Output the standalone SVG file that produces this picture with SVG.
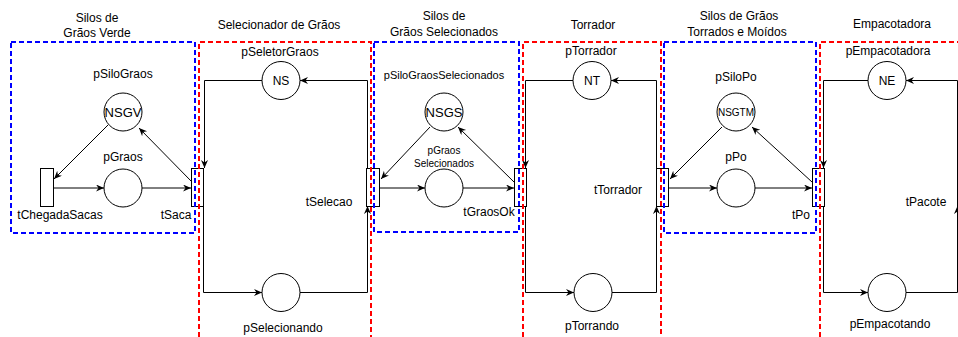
<svg xmlns="http://www.w3.org/2000/svg" width="958" height="337" viewBox="0 0 958 337">
<style>
text{font-family:"Liberation Sans",Arial,sans-serif;font-size:12px;fill:#000;text-anchor:middle}
.sm{font-size:11px}
.xs{font-size:10px}
.pl{fill:#fff;stroke:#000;stroke-width:1}
.tr{fill:#fff;stroke:#000;stroke-width:1}
.cn{fill:none;stroke:#000;stroke-width:1;marker-end:url(#ah)}
.blue{fill:none;stroke:#0000ff;stroke-width:2;stroke-dasharray:5 3}
.red{fill:none;stroke:#ff0000;stroke-width:2;stroke-dasharray:5 3}
</style>
<defs>
<marker id="ah" markerUnits="userSpaceOnUse" markerWidth="10" markerHeight="8" refX="8" refY="3.5" orient="auto">
<path d="M0,0 L8,3.5 L0,7 L2.5,3.5 Z" fill="#000"/>
</marker>
</defs>
<rect width="958" height="337" fill="#fff"/>

<g id="connectors">
<path class="cn" d="M108,125 L54,179"/>
<path class="cn" d="M53.5,188 L104,188"/>
<path class="cn" d="M142,188 L191,188"/>
<path class="cn" d="M192,182 L139,128"/>
<path class="cn" d="M262,80.5 L204.5,80.5 L204.5,168"/>
<path class="cn" d="M203.5,206 L203.5,292.5 L262,292.5"/>
<path class="cn" d="M300,292.5 L367.5,292.5 L367.5,206"/>
<path class="cn" d="M367.5,168 L367.5,80.5 L300,80.5"/>
<path class="cn" d="M430,127 L381,179"/>
<path class="cn" d="M380,188 L425,188"/>
<path class="cn" d="M463,188 L514,188"/>
<path class="cn" d="M514,182 L458,127"/>
<path class="cn" d="M573,80.5 L525.5,80.5 L525.5,168"/>
<path class="cn" d="M525.5,206 L525.5,292.5 L574,292.5"/>
<path class="cn" d="M612,292.5 L656.5,292.5 L656.5,206"/>
<path class="cn" d="M656.5,168 L656.5,80.5 L611,80.5"/>
<path class="cn" d="M722,127 L670,179"/>
<path class="cn" d="M669,188 L717,188"/>
<path class="cn" d="M755,188 L812,188"/>
<path class="cn" d="M812,182 L752,127"/>
<path class="cn" d="M868,80.5 L823.5,80.5 L823.5,168"/>
<path class="cn" d="M823.5,206 L823.5,292.5 L868,292.5"/>
<path class="cn" d="M906,292.5 L957.5,292.5 L957.5,206"/>
<path class="cn" d="M957.5,168 L957.5,80.5 L906,80.5"/>
</g>

<g id="pSiloGraos"><circle class="pl" cx="123" cy="112" r="19"/><text x="123" y="116.5" style="font-size:13px">NSGV</text><text x="123" y="78">pSiloGraos</text></g>
<g id="pGraos"><circle class="pl" cx="123" cy="188" r="19"/><text x="123" y="161">pGraos</text></g>
<g id="tChegadaSacas"><rect class="tr" x="40.5" y="168.5" width="13" height="38"/><text x="60" y="219">tChegadaSacas</text></g>
<g id="tSaca"><rect class="tr" x="191.5" y="168.5" width="12" height="38"/><text x="176" y="219">tSaca</text></g>

<g id="pSeletorGraos"><circle class="pl" cx="281" cy="80.5" r="19"/><text x="281" y="85">NS</text><text x="280" y="56">pSeletorGraos</text></g>
<g id="pSelecionando"><circle class="pl" cx="281" cy="292.5" r="19"/><text x="283" y="332">pSelecionando</text></g>
<g id="tSelecao"><rect class="tr" x="366.5" y="168.5" width="13" height="38"/><text x="329" y="206">tSelecao</text></g>

<g id="pSiloGraosSelecionados"><circle class="pl" cx="444" cy="112" r="19"/><text x="444" y="116.5" style="font-size:13px">NSGS</text><text class="sm" x="444" y="79">pSiloGraosSelecionados</text></g>
<g id="pGraosSelecionados"><circle class="pl" cx="444" cy="188" r="19"/><text class="xs" x="444" y="153.5">pGraos</text><text class="xs" x="444" y="166.5">Selecionados</text></g>
<g id="tGraosOk"><rect class="tr" x="514.5" y="168.5" width="12" height="38"/><text x="489" y="216">tGraosOk</text></g>

<g id="pTorrador"><circle class="pl" cx="592" cy="80.5" r="19"/><text x="592" y="85">NT</text><text x="591" y="55">pTorrador</text></g>
<g id="pTorrando"><circle class="pl" cx="593" cy="292.5" r="19"/><text x="592" y="330">pTorrando</text></g>
<g id="tTorrador"><rect class="tr" x="656.5" y="168.5" width="12" height="38"/><text x="618" y="194">tTorrador</text></g>

<g id="pSiloPo"><circle class="pl" cx="736" cy="112" r="19"/><text class="xs" x="736" y="115.5">NSGTM</text><text x="736" y="81">pSiloPo</text></g>
<g id="pPo"><circle class="pl" cx="736" cy="188" r="19"/><text x="736" y="161">pPo</text></g>
<g id="tPo"><rect class="tr" x="812.5" y="168.5" width="12" height="38"/><text x="801" y="219">tPo</text></g>

<g id="pEmpacotadora"><circle class="pl" cx="887" cy="80.5" r="19"/><text x="887" y="85">NE</text><text x="888" y="55">pEmpacotadora</text></g>
<g id="pEmpacotando"><circle class="pl" cx="887" cy="292.5" r="19"/><text x="890" y="328">pEmpacotando</text></g>
<g id="tPacote"><rect class="tr" x="957.5" y="168.5" width="13" height="38"/><text x="926" y="206">tPacote</text></g>

<g id="region-silos-verde"><rect class="blue" x="11" y="42" width="184" height="191"/><text x="97" y="22">Silos de</text><text x="97" y="37">Grãos Verde</text></g>
<g id="region-selecionador"><path class="red" d="M199,337 L199,42 L371,42 L371,337"/><text x="279" y="29">Selecionador de Grãos</text></g>
<g id="region-silos-selecionados"><rect class="blue" x="374" y="42" width="145" height="190"/><text x="444" y="20">Silos de</text><text x="444" y="36">Grãos Selecionados</text></g>
<g id="region-torrador"><path class="red" d="M523,337 L523,42 L661,42 L661,337"/><text x="593" y="29">Torrador</text></g>
<g id="region-silos-po"><rect class="blue" x="664" y="42" width="152" height="191"/><text x="739" y="20">Silos de Grãos</text><text x="737" y="36">Torrados e Moídos</text></g>
<g id="region-empacotadora"><path class="red" d="M820,337 L820,42 L958,42"/><text x="892" y="28">Empacotadora</text></g>
</svg>
